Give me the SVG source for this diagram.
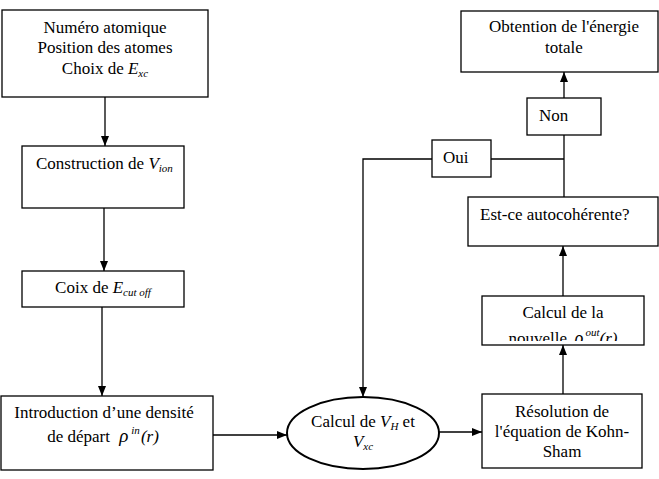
<svg xmlns="http://www.w3.org/2000/svg" width="659" height="479" viewBox="0 0 659 479">
<style>
.b{fill:#fff;stroke:#000;stroke-width:1.3}
text{font-family:'Liberation Serif','Times New Roman','DejaVu Serif',serif;font-size:17px;fill:#000}
.c{text-anchor:middle}
.i{font-style:italic}
.s{font-style:italic;font-size:11px}
.r{font-style:italic;font-size:19px}
.l{fill:none;stroke:#000;stroke-width:1.3}
</style>
<defs>
<marker id="a" markerUnits="userSpaceOnUse" markerWidth="10" markerHeight="10" viewBox="0 0 10 10" refX="10" refY="5" orient="auto">
<path d="M0,1 L10,5 L0,9 z" fill="#000"/>
</marker>
<clipPath id="cp"><rect x="482" y="296" width="162" height="45"/></clipPath>
</defs>
<rect width="659" height="479" fill="#fff"/>
<g id="connectors">
<line class="l" x1="105" y1="97" x2="105" y2="146" marker-end="url(#a)"/>
<line class="l" x1="104" y1="208" x2="104" y2="271" marker-end="url(#a)"/>
<line class="l" x1="102" y1="307" x2="102" y2="396" marker-end="url(#a)"/>
<line class="l" x1="213" y1="435" x2="287" y2="435" marker-end="url(#a)"/>
<line class="l" x1="439" y1="432" x2="482" y2="432" marker-end="url(#a)"/>
<line class="l" x1="563" y1="394" x2="563" y2="345" marker-end="url(#a)"/>
<line class="l" x1="563" y1="296" x2="563" y2="246" marker-end="url(#a)"/>
<line class="l" x1="564" y1="197" x2="564" y2="135"/>
<line class="l" x1="491" y1="159" x2="564" y2="159"/>
<polyline class="l" points="432,159 363,159 363,397" marker-end="url(#a)"/>
<line class="l" x1="564" y1="98" x2="564" y2="72" marker-end="url(#a)"/>
</g>
<g id="n1">
<rect class="b" x="2" y="10" width="206" height="87"/>
<text class="c" x="105" y="33">Numéro atomique</text>
<text class="c" x="105" y="53">Position des atomes</text>
<text class="c" x="105" y="74">Choix de <tspan class="i">E</tspan><tspan class="s" dy="3">xc</tspan></text>
</g>
<g id="n2">
<rect class="b" x="22" y="146" width="162" height="62"/>
<text x="36" y="169">Construction de <tspan class="i">V</tspan><tspan class="s" dy="3">ion</tspan></text>
</g>
<g id="n3">
<rect class="b" x="22" y="271" width="162" height="36"/>
<text class="c" x="103" y="293">Coix de <tspan class="i">E</tspan><tspan class="s" dy="3">cut off</tspan></text>
</g>
<g id="n4">
<rect class="b" x="1" y="396" width="212" height="74"/>
<text class="c" x="104" y="418">Introduction d’une densité</text>
<text class="c" x="103" y="442">de départ <tspan class="r" dx="5">ρ</tspan><tspan class="s" dx="3" dy="-8">in</tspan><tspan class="i" dx="1" dy="8">(r)</tspan></text>
</g>
<g id="n5">
<ellipse cx="363" cy="433" rx="76" ry="36" fill="#fff" stroke="#000" stroke-width="2"/>
<text class="c" x="363" y="427">Calcul de <tspan class="i">V</tspan><tspan class="s" dy="3">H</tspan><tspan dy="-3"> et</tspan></text>
<text class="c" x="363" y="447"><tspan class="i">V</tspan><tspan class="s" dy="3">xc</tspan></text>
</g>
<g id="n6">
<rect class="b" x="482" y="394" width="160" height="74"/>
<text class="c" x="562" y="417">Résolution de</text>
<text class="c" x="562" y="437">l'équation de Kohn-</text>
<text class="c" x="562" y="457">Sham</text>
</g>
<g id="n7">
<rect class="b" x="482" y="296" width="162" height="49"/>
<text class="c" x="563" y="318">Calcul de la</text>
<text class="c" x="563" y="344" clip-path="url(#cp)">nouvelle <tspan class="r" dx="3">ρ</tspan><tspan class="s" dx="2" dy="-8">out</tspan><tspan class="i" dy="8">(r)</tspan></text>
</g>
<g id="n8">
<rect class="b" x="468" y="197" width="190" height="49"/>
<text x="480" y="220">Est-ce autocohérente?</text>
</g>
<g id="n9">
<rect class="b" x="432" y="140" width="59" height="37"/>
<text x="443" y="163">Oui</text>
</g>
<g id="n10">
<rect class="b" x="527" y="98" width="74" height="37"/>
<text x="539" y="121">Non</text>
</g>
<g id="n11">
<rect class="b" x="461" y="11" width="197" height="61"/>
<text class="c" x="564" y="32">Obtention de l'énergie</text>
<text class="c" x="564" y="53">totale</text>
</g>
</svg>
